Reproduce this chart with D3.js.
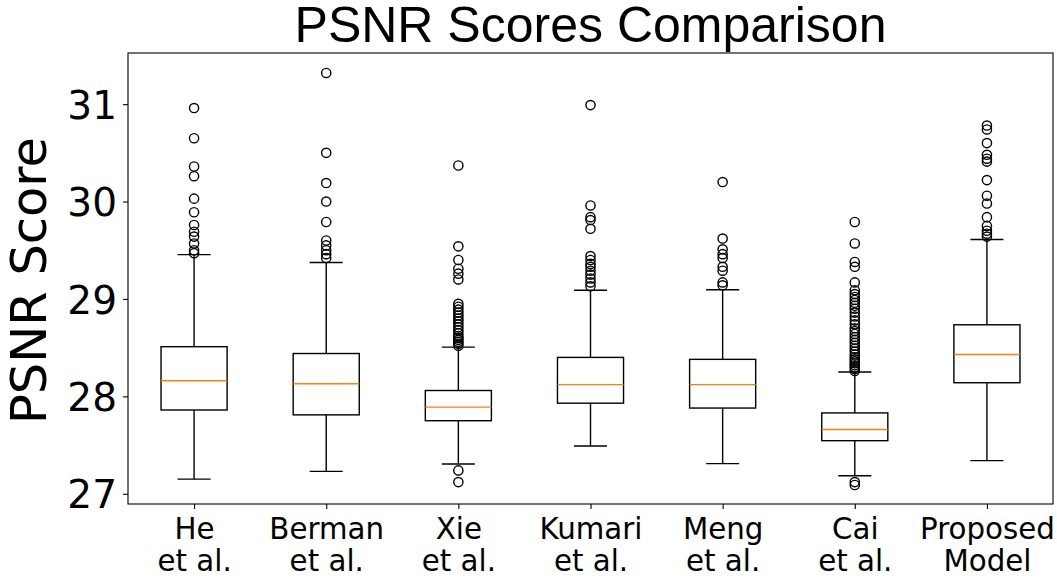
<!DOCTYPE html>
<html>
<head>
<meta charset="utf-8">
<script src="https://cdn.jsdelivr.net/npm/d3@7"></script>
<style>
  html, body { margin: 0; padding: 0; background: #fff; }
  svg { display: block; }
</style>
</head>
<body>
<svg id="chart" width="1057" height="581"></svg>
<script>
// Methods compared (two-line tick labels)
const methods = ["He", "Berman", "Xie", "Kumari", "Meng", "Cai", "Proposed"];
const labelLine1 = ["He", "Berman", "Xie", "Kumari", "Meng", "Cai", "Proposed"];
const labelLine2 = ["et al.", "et al.", "et al.", "et al.", "et al.", "et al.", "Model"];

// Box statistics per method
const q1          = [27.86, 27.81, 27.75, 27.93, 27.88, 27.545, 28.14];
const medians     = [28.16, 28.13, 27.89, 28.12, 28.12, 27.66, 28.43];
const q3          = [28.51, 28.44, 28.06, 28.40, 28.38, 27.83, 28.735];
const whiskerLow  = [27.15, 27.23, 27.305, 27.49, 27.31, 27.185, 27.34];
const whiskerHigh = [29.455, 29.375, 28.505, 29.09, 29.095, 28.25, 29.61];

// Outlying PSNR scores per method
const outliers = [
  [30.96, 30.65, 30.36, 30.26, 30.03, 29.89, 29.76, 29.69, 29.64, 29.57, 29.50, 29.47],
  [31.32, 30.50, 30.19, 30.00, 29.79, 29.60, 29.55, 29.50, 29.46, 29.42],
  [30.37, 29.54, 29.40, 29.31, 29.26, 29.20, 28.95, 28.92, 28.89, 28.86, 28.83, 28.80,
   28.77, 28.74, 28.71, 28.68, 28.65, 28.62, 28.60, 28.58, 28.56, 28.54, 28.52, 27.24, 27.12],
  [30.99, 29.96, 29.84, 29.81, 29.72, 29.44, 29.40, 29.36, 29.33, 29.29, 29.25, 29.21, 29.17, 29.13],
  [30.20, 29.62, 29.51, 29.46, 29.42, 29.33, 29.29, 29.17, 29.14],
  [29.79, 29.57, 29.38, 29.33, 29.17, 29.09, 29.05, 29.02, 28.99, 28.96, 28.93, 28.90,
   28.86, 28.82, 28.78, 28.74, 28.70, 28.67, 28.64, 28.61, 28.58, 28.55, 28.52, 28.49,
   28.46, 28.43, 28.40, 28.38, 28.36, 28.34, 28.32, 28.30, 28.28, 28.26, 27.12, 27.09],
  [30.78, 30.74, 30.60, 30.48, 30.44, 30.41, 30.22, 30.06, 29.98, 29.84, 29.75, 29.70, 29.67, 29.64]
];

const yTicks = [27, 28, 29, 30, 31];
const yDomain = [26.895, 31.525];

const svg = d3.select("#chart");
const margin = { left: 128, right: 4, top: 53, bottom: 77 };
const W = 1057 - margin.left - margin.right;
const H = 581 - margin.top - margin.bottom;

const g = svg.append("g").attr("transform", `translate(${margin.left},${margin.top})`);

const x = d3.scalePoint().domain(methods).range([0, W]).padding(0.5);
const step = x.step();
const boxW = step * 0.5;
const capW = boxW * 0.5;
const y = d3.scaleLinear().domain(yDomain).range([H, 0]);

// Title
svg.append("text")
  .attr("x", margin.left + W / 2)
  .attr("y", 42)
  .attr("text-anchor", "middle")
  .attr("font-family", "Liberation Sans, Arial, sans-serif")
  .attr("font-size", 50)
  .attr("fill", "#000")
  .text("PSNR Scores Comparison");

// Y axis
const yAxis = g.append("g")
  .call(d3.axisLeft(y).tickValues(yTicks).tickFormat(d3.format("d")).tickSizeOuter(0).tickSizeInner(5).tickPadding(6));
yAxis.select(".domain").remove();
yAxis.selectAll("line").attr("stroke", "#000").attr("stroke-width", 1.1);
yAxis.selectAll("text")
  .attr("font-family", "DejaVu Sans, sans-serif")
  .attr("font-size", 39)
  .attr("fill", "#000")
  .attr("dy", "0.36em");

// Y label
svg.append("text")
  .attr("transform", `translate(46, ${margin.top + H / 2 + 2}) rotate(-90)`)
  .attr("text-anchor", "middle")
  .attr("font-family", "DejaVu Sans, sans-serif")
  .attr("font-size", 49.5)
  .attr("fill", "#000")
  .text("PSNR Score");

// X axis
const xAxis = g.append("g")
  .attr("transform", `translate(0,${H})`)
  .call(d3.axisBottom(x).tickSizeOuter(0).tickSizeInner(5).tickFormat(() => ""));
xAxis.select(".domain").remove();
xAxis.selectAll("line").attr("stroke", "#000").attr("stroke-width", 1.1);
xAxis.selectAll(".tick").each(function (d, i) {
  const t = d3.select(this).append("text")
    .attr("text-anchor", "middle")
    .attr("font-family", "DejaVu Sans, sans-serif")
    .attr("font-size", 29.3)
    .attr("fill", "#000");
  t.append("tspan").attr("x", 0).attr("y", 35).text(labelLine1[i]);
  t.append("tspan").attr("x", 0).attr("y", 67).text(labelLine2[i]);
});

// Boxes
const boxes = g.selectAll(".box").data(methods).join("g")
  .attr("class", "box")
  .attr("transform", d => `translate(${x(d)},0)`);

const stroke = "#000";
const lw = 1.4;

// whiskers
boxes.append("line")
  .attr("x1", 0).attr("x2", 0)
  .attr("y1", (d, i) => y(q1[i])).attr("y2", (d, i) => y(whiskerLow[i]))
  .attr("stroke", stroke).attr("stroke-width", lw);
boxes.append("line")
  .attr("x1", 0).attr("x2", 0)
  .attr("y1", (d, i) => y(q3[i])).attr("y2", (d, i) => y(whiskerHigh[i]))
  .attr("stroke", stroke).attr("stroke-width", lw);
// caps
boxes.append("line")
  .attr("x1", -capW / 2).attr("x2", capW / 2)
  .attr("y1", (d, i) => y(whiskerLow[i])).attr("y2", (d, i) => y(whiskerLow[i]))
  .attr("stroke", stroke).attr("stroke-width", lw);
boxes.append("line")
  .attr("x1", -capW / 2).attr("x2", capW / 2)
  .attr("y1", (d, i) => y(whiskerHigh[i])).attr("y2", (d, i) => y(whiskerHigh[i]))
  .attr("stroke", stroke).attr("stroke-width", lw);
// box
boxes.append("rect")
  .attr("x", -boxW / 2).attr("width", boxW)
  .attr("y", (d, i) => y(q3[i]))
  .attr("height", (d, i) => y(q1[i]) - y(q3[i]))
  .attr("fill", "none").attr("stroke", stroke).attr("stroke-width", lw);
// median
boxes.append("line")
  .attr("x1", -boxW / 2).attr("x2", boxW / 2)
  .attr("y1", (d, i) => y(medians[i])).attr("y2", (d, i) => y(medians[i]))
  .attr("stroke", "#ff7f0e").attr("stroke-width", lw);
// fliers
boxes.each(function (d, i) {
  d3.select(this).selectAll("circle").data(outliers[i]).join("circle")
    .attr("cx", 0).attr("cy", v => y(v)).attr("r", 4.6)
    .attr("fill", "none").attr("stroke", "#000").attr("stroke-width", 1.4);
});

// Frame
g.append("rect")
  .attr("x", 0).attr("y", 0).attr("width", W).attr("height", H)
  .attr("fill", "none").attr("stroke", "#000").attr("stroke-width", 1.1);
</script>
</body>
</html>
